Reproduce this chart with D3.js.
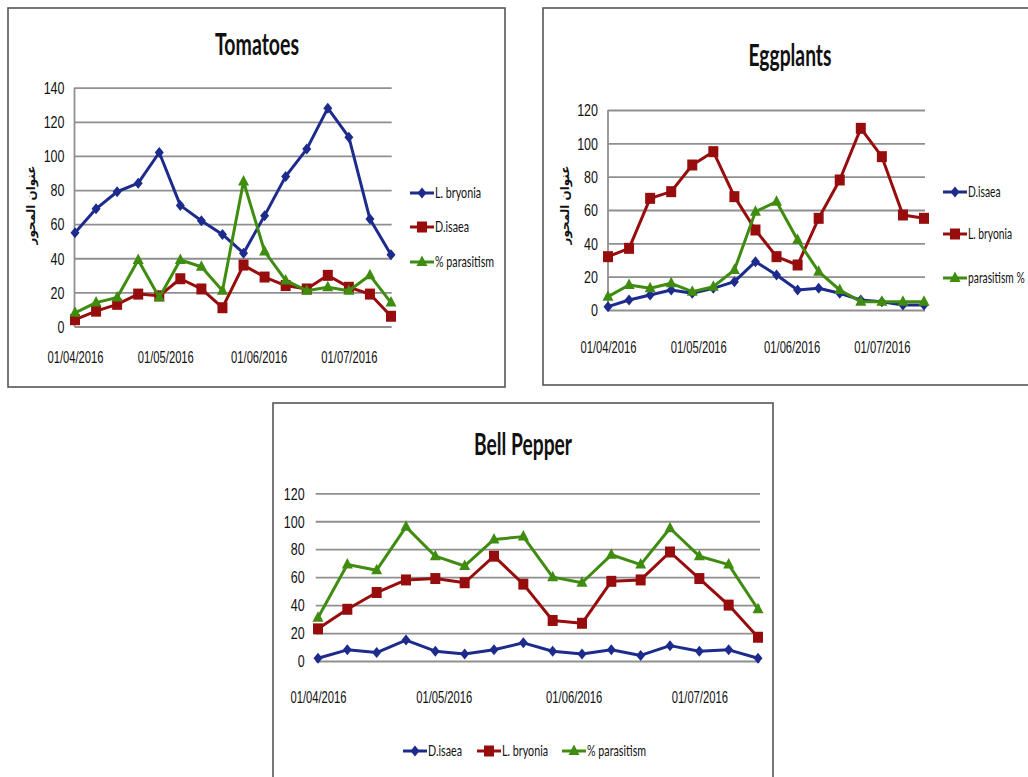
<!DOCTYPE html>
<html>
<head>
<meta charset="utf-8">
<script src="https://cdn.jsdelivr.net/npm/d3@7"></script>
<style>
  html, body { margin: 0; padding: 0; background: #fff; }
  svg { display: block; }
</style>
</head>
<body>
<svg id="chart" width="1028" height="777"></svg>
<script>
// Weekly sampling dates, spring–summer 2016
const sampleDates = ["2016-04-01", "2016-04-08", "2016-04-15", "2016-04-22", "2016-04-29",
  "2016-05-06", "2016-05-13", "2016-05-20", "2016-05-27", "2016-06-03", "2016-06-10",
  "2016-06-17", "2016-06-24", "2016-07-01", "2016-07-08", "2016-07-15"];

// Tomatoes
const tomatoLBryonia   = [55, 69, 79, 84, 102, 71, 62, 54, 43, 65, 88, 104, 128, 111, 63, 42];
const tomatoDIsaea     = [4, 9, 13, 19, 18, 28, 22, 11, 36, 29, 24, 22, 30, 23, 19, 6];
const tomatoParasitism = [8, 14, 17, 39, 17, 39, 35, 21, 85, 44, 27, 21, 23, 21, 30, 14];

// Eggplants
const eggDIsaea     = [2, 6, 9, 12, 10, 13, 17, 29, 21, 12, 13, 10, 6, 5, 3, 3];
const eggLBryonia   = [32, 37, 67, 71, 87, 95, 68, 48, 32, 27, 55, 78, 109, 92, 57, 55];
const eggParasitism = [8, 15, 13, 16, 11, 14, 24, 59, 65, 42, 23, 12, 5, 5, 5, 5];

// Bell pepper
const bellDIsaea     = [2, 8, 6, 15, 7, 5, 8, 13, 7, 5, 8, 4, 11, 7, 8, 2];
const bellLBryonia   = [23, 37, 49, 58, 59, 56, 75, 55, 29, 27, 57, 58, 78, 59, 40, 17];
const bellParasitism = [31, 69, 65, 96, 75, 68, 87, 89, 60, 56, 76, 69, 95, 75, 69, 37];

const chartTitles = ["Tomatoes", "Eggplants", "Bell Pepper"];
const yTickMax = [140, 120, 120];
const yAxisTitle = "عنوان المحور";

const BLUE = "#1c2b8c", RED = "#970c0c", GREEN = "#3f8c10";
const GRID = "#8f8f8f";

const parseDate = d3.timeParse("%Y-%m-%d");
const dates = sampleDates.map(parseDate);

const panels = [
  {
    title: chartTitles[0], yMax: yTickMax[0],
    box: [8, 8, 497, 379],
    plot: { l: 75, r: 391, t: 87.7, b: 326.5, gl: 74.5, gr: 391.7 },
    titleX: 257, titleY: 55, titleW: 84,
    yTitle: { x: 31, y: 205 }, axisLine: true,
    dateY: 363, tickPad: 10,
    legend: { type: "v", x: 410, ys: [193, 227, 262], k: 0.74 },
    series: [
      { name: "L. bryonia", values: tomatoLBryonia, color: BLUE, shape: "diamond" },
      { name: "D.isaea", values: tomatoDIsaea, color: RED, shape: "square" },
      { name: "% parasitism", values: tomatoParasitism, color: GREEN, shape: "triangle" }
    ]
  },
  {
    title: chartTitles[1], yMax: yTickMax[1],
    box: [543, 8, 520, 377],
    plot: { l: 608, r: 924, t: 110, b: 310, gl: 608, gr: 925 },
    titleX: 790, titleY: 66, titleW: 83,
    yTitle: { x: 565, y: 205 }, axisLine: true,
    dateY: 353, tickPad: 10,
    legend: { type: "v", x: 943, ys: [192, 234, 278], k: 0.71 },
    series: [
      { name: "D.isaea", values: eggDIsaea, color: BLUE, shape: "diamond" },
      { name: "L. bryonia", values: eggLBryonia, color: RED, shape: "square" },
      { name: "parasitism %", values: eggParasitism, color: GREEN, shape: "triangle" }
    ]
  },
  {
    title: chartTitles[2], yMax: yTickMax[2],
    box: [273, 403, 500, 390],
    plot: { l: 318, r: 758, t: 493.3, b: 661, gl: 315.7, gr: 760 },
    titleX: 523, titleY: 455, titleW: 98,
    yTitle: null, axisLine: false,
    dateY: 703, tickPad: 11,
    legend: { type: "h", y: 751, xs: [403, 477, 562], k: 0.74 },
    series: [
      { name: "D.isaea", values: bellDIsaea, color: BLUE, shape: "diamond" },
      { name: "L. bryonia", values: bellLBryonia, color: RED, shape: "square" },
      { name: "% parasitism", values: bellParasitism, color: GREEN, shape: "triangle" }
    ]
  }
];

// Marker outlines, centred on the data point
const shapes = {
  diamond: "M0,-5.5L4.5,0L0,5.5L-4.5,0Z",
  square: "M-5,-5.5H5V5.5H-5Z",
  triangle: "M0,-6.5L5.5,4L-5.5,4Z"
};

// Condense a text node horizontally by factor k
function squeeze(sel, k) {
  sel.each(function () {
    const w = this.getComputedTextLength();
    d3.select(this).attr("textLength", w * k).attr("lengthAdjust", "spacingAndGlyphs");
  });
}
function fitWidth(sel, w) {
  sel.attr("textLength", w).attr("lengthAdjust", "spacingAndGlyphs");
}

const svg = d3.select("#chart");
svg.append("rect").attr("width", 1028).attr("height", 777).attr("fill", "#fff");

panels.forEach(p => {
  const g = svg.append("g");
  const [bx, by, bw, bh] = p.box;

  g.append("rect")
    .attr("x", bx).attr("y", by).attr("width", bw).attr("height", bh)
    .attr("fill", "#fff").attr("stroke", "#555").attr("stroke-width", 1.6);

  const x = d3.scaleTime().domain([dates[0], dates[dates.length - 1]]).range([p.plot.l, p.plot.r]);
  const y = d3.scaleLinear().domain([0, p.yMax]).range([p.plot.b, p.plot.t]);

  // Horizontal gridlines + value labels
  const yAxis = d3.axisLeft(y)
    .tickValues(d3.range(0, p.yMax + 1, 20))
    .tickSize(-(p.plot.gr - p.plot.gl))
    .tickPadding(p.tickPad)
    .tickFormat(d3.format("d"));
  const yg = g.append("g").attr("transform", `translate(${p.plot.gl},0)`).call(yAxis);
  yg.select(".domain").remove();
  yg.selectAll(".tick line").attr("stroke", GRID).attr("stroke-width", 1.8);
  yg.selectAll(".tick text")
    .attr("fill", "#111").attr("font-family", "'Liberation Sans', Arial, sans-serif")
    .attr("font-size", 16).attr("dy", "0.36em")
    .call(squeeze, 0.78);

  if (p.axisLine) {
    g.append("line")
      .attr("x1", p.plot.gl).attr("x2", p.plot.gl)
      .attr("y1", p.plot.t).attr("y2", p.plot.b)
      .attr("stroke", GRID).attr("stroke-width", 1.8);
  }

  // Monthly date labels
  const xAxis = d3.axisBottom(x)
    .ticks(d3.timeMonth.every(1))
    .tickSize(0).tickPadding(0)
    .tickFormat(d3.timeFormat("%d/%m/%Y"));
  const xg = g.append("g").attr("transform", `translate(0,${p.dateY})`).call(xAxis);
  xg.select(".domain").remove();
  xg.selectAll(".tick text")
    .attr("fill", "#111").attr("font-family", "'Liberation Sans', Arial, sans-serif")
    .attr("font-size", 16).attr("dy", 0)
    .call(squeeze, 0.7);

  // Title
  g.append("text")
    .attr("x", p.titleX).attr("y", p.titleY)
    .attr("text-anchor", "middle")
    .attr("font-family", "Lato, 'Open Sans', sans-serif")
    .attr("font-weight", 700).attr("font-size", 31).attr("fill", "#111")
    .text(p.title)
    .call(fitWidth, p.titleW);

  // Vertical axis title
  if (p.yTitle) {
    g.append("text")
      .attr("transform", `translate(${p.yTitle.x},${p.yTitle.y}) rotate(-90)`)
      .attr("text-anchor", "middle").attr("dy", "0.35em")
      .attr("font-family", "'DejaVu Sans', sans-serif")
      .attr("font-weight", 700).attr("font-size", 12).attr("fill", "#111")
      .text(yAxisTitle);
  }

  // Series lines and markers
  const line = d3.line().x((d, i) => x(dates[i])).y(d => y(d));
  p.series.forEach(s => {
    g.append("path")
      .datum(s.values)
      .attr("d", line)
      .attr("fill", "none").attr("stroke", s.color)
      .attr("stroke-width", 3).attr("stroke-linejoin", "round");
    g.selectAll(null)
      .data(s.values)
      .join("path")
      .attr("d", shapes[s.shape])
      .attr("transform", (d, i) => `translate(${x(dates[i])},${y(d)})`)
      .attr("fill", s.color);
  });

  // Legend (labels condensed with a horizontal scale)
  p.series.forEach((s, i) => {
    const lx = p.legend.type === "v" ? p.legend.x : p.legend.xs[i];
    const ly = p.legend.type === "v" ? p.legend.ys[i] : p.legend.y;
    g.append("line")
      .attr("x1", lx).attr("x2", lx + 24).attr("y1", ly).attr("y2", ly)
      .attr("stroke", s.color).attr("stroke-width", 3);
    g.append("path")
      .attr("d", shapes[s.shape])
      .attr("transform", `translate(${lx + 12},${ly})`)
      .attr("fill", s.color);
    g.append("g")
      .attr("transform", `translate(${lx + 25},${ly}) scale(${p.legend.k},1)`)
      .append("text")
      .attr("x", 0).attr("y", 0).attr("dy", "0.36em")
      .attr("font-family", "Lato, 'Open Sans', sans-serif")
      .attr("font-size", 14.5).attr("fill", "#111")
      .text(s.name);
  });
});
</script>
</body>
</html>
